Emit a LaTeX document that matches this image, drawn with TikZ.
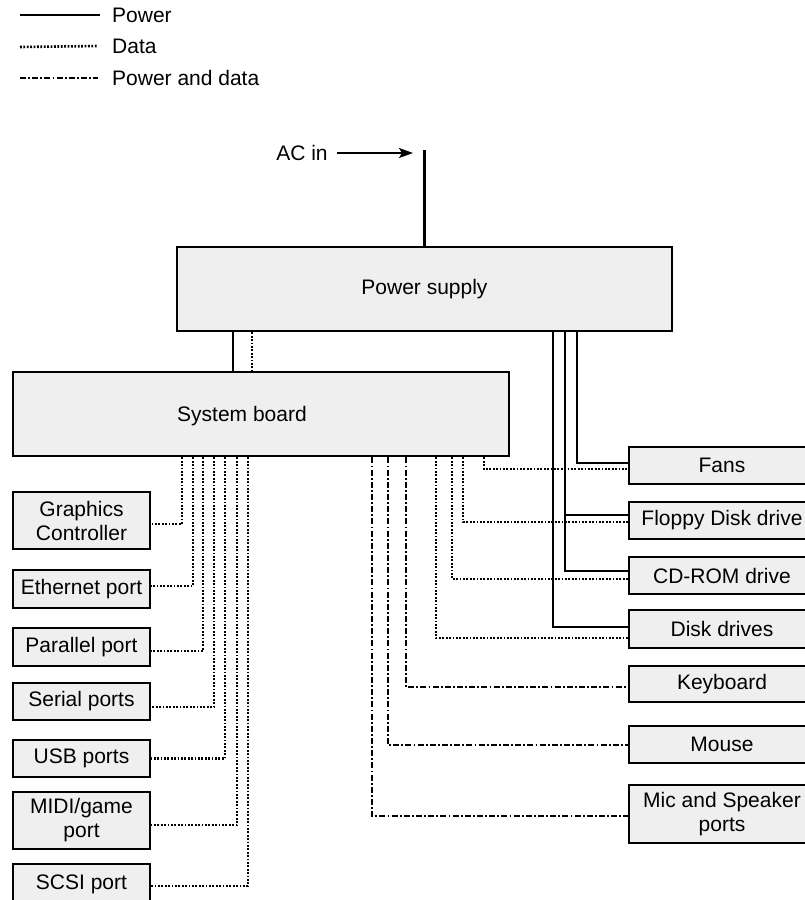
\documentclass[tikz,border=0pt]{standalone}
\usepackage{fontspec}
\setmainfont{Liberation Sans}
\usetikzlibrary{calc,arrows.meta}
\definecolor{boxgray}{HTML}{EFEFEF}
\begin{document}
\begin{tikzpicture}[x=1pt,y=-1pt,
  box/.style={draw, line width=2.8pt, fill=boxgray, inner sep=0pt, align=center,
              font=\fontsize{21}{24}\selectfont},
  lbox/.style={box, minimum width=137pt},
  rbox/.style={box, minimum width=186pt},
  lbl/.style={inner sep=0pt, font=\fontsize{21}{24}\selectfont},
  power/.style={line width=2.6pt},
  data/.style={line width=2.6pt, dash pattern=on 1.8pt off 1.6pt},
  pdata/.style={line width=2.6pt, dash pattern=on 6pt off 2.2pt on 1.8pt off 2.2pt},
]
\useasboundingbox (0,0) rectangle (805,900);
\clip (0,0) rectangle (805,900);

% legend
\node[lbl, anchor=west] (lgP) at (112,15) {Power};
\node[lbl, anchor=west] (lgD) at (112,46) {Data};
\node[lbl, anchor=west] (lgPD) at (112,78) {Power and data};
\coordinate (lgPs) at (20,15);
\coordinate (lgDs) at (20,47);
\coordinate (lgPDs) at (20,78);
\draw[power] (lgPs) -- ($(lgP.west)+(-12,0)$);
\draw[data] (lgDs) -- ($(lgD.west)+(-14,0)$);
\draw[pdata] (lgPDs) -- ($(lgPD.west)+(-14,0)$);

% main boxes
\node[box, minimum width=495pt, minimum height=84pt] (ps) at (424.5,289) {Power supply};
\node[box, minimum width=496pt, minimum height=84pt] (sb) at (261,414) {};
\node[lbl] (sbl) at (242,416) {System board};

% AC in
\node[lbl] (acin) at (302,153) {AC in};
\coordinate (acarrow) at (413,153);
\coordinate (actop) at (424.5,150);
\draw[line width=1.5pt, -{Stealth[length=14pt,width=10pt,inset=3pt]}] ($(acin.east)+(9,0)$) -- (acarrow);
\draw[power] (actop) -- (ps.north);

% power supply to system board
\coordinate (xa) at (233,0);
\coordinate (xb) at (252,0);
\draw[power] (ps.south -| xa) -- (sb.north -| xa);
\draw[data] (ps.south -| xb) -- (sb.north -| xb);

% left boxes
\node[lbox, minimum height=57pt] (gc)   at (81.5,520.5) {Graphics\\Controller};
\node[lbox, minimum height=38pt] (eth)  at (81.5,589)   {Ethernet port};
\node[lbox, minimum height=38pt] (par)  at (81.5,647)   {Parallel port};
\node[lbox, minimum height=37pt] (ser)  at (81.5,701.5) {Serial ports};
\node[lbox, minimum height=37pt] (usb)  at (81.5,758.5) {USB ports};
\node[lbox, minimum height=57pt] (midi) at (81.5,820.5) {MIDI/game\\port};
\node[lbox, minimum height=40pt] (scsi) at (81.5,884)   {SCSI port};

% right boxes
\node[rbox, minimum height=37pt] (fans) at (722,465.5) {Fans};
\node[rbox, minimum height=37pt] (fl)   at (722,520.5) {Floppy Disk drive};
\node[rbox, minimum height=37pt] (cd)   at (722,575.5) {CD-ROM drive};
\node[rbox, minimum height=38pt] (dk)   at (722,629)   {Disk drives};
\node[rbox, minimum height=36pt] (kb)   at (722,684)   {Keyboard};
\node[rbox, minimum height=37pt] (ms)   at (722,744.5) {Mouse};
\node[rbox, minimum height=58pt] (mic)  at (722,814)   {Mic and Speaker\\ports};

% column coordinates
\coordinate (xG) at (182,0);
\coordinate (xE) at (193,0);
\coordinate (xP) at (203,0);
\coordinate (xS) at (214,0);
\coordinate (xU) at (225,0);
\coordinate (xMi) at (237,0);
\coordinate (xSc) at (248,0);
\coordinate (xpF) at (577,0);
\coordinate (xpC) at (565,0);
\coordinate (xpD) at (553,0);
\coordinate (xdF) at (484,0);
\coordinate (xdFl) at (463,0);
\coordinate (xdC) at (452,0);
\coordinate (xdD) at (436,0);
\coordinate (xdK) at (406,0);
\coordinate (xdM) at (388,0);
\coordinate (xdMic) at (372,0);

% left connection ends
\coordinate (gcE) at ($(gc.east)+(0,3.5)$);
\coordinate (ethE) at ($(eth.east)+(0,-3)$);
\coordinate (parE) at ($(par.east)+(0,4)$);
\coordinate (serE) at ($(ser.east)+(0,5.5)$);
\coordinate (usbE) at ($(usb.east)+(0,0)$);
\coordinate (midiE) at ($(midi.east)+(0,4.5)$);
\coordinate (scsiE) at ($(scsi.east)+(0,2)$);

\draw[data] (sb.south -| xG) |- (gcE);
\draw[data] (sb.south -| xE) |- (ethE);
\draw[data] (sb.south -| xP) |- (parE);
\draw[data] (sb.south -| xS) |- (serE);
\draw[data] (sb.south -| xU) |- (usbE);
\draw[data] (sb.south -| xMi) |- (midiE);
\draw[data] (sb.south -| xSc) |- (scsiE);

% right connection ends
\coordinate (fansP) at ($(fans.west)+(0,-2.5)$);
\coordinate (fansD) at ($(fans.west)+(0,3.5)$);
\coordinate (flP) at ($(fl.west)+(0,-5.5)$);
\coordinate (flD) at ($(fl.west)+(0,1.5)$);
\coordinate (cdP) at ($(cd.west)+(0,-4.5)$);
\coordinate (cdD) at ($(cd.west)+(0,3.5)$);
\coordinate (dkP) at ($(dk.west)+(0,-2)$);
\coordinate (dkD) at ($(dk.west)+(0,9)$);
\coordinate (kbD) at ($(kb.west)+(0,3)$);
\coordinate (msD) at ($(ms.west)+(0,0.5)$);
\coordinate (micD) at ($(mic.west)+(0,2)$);

% power lines
\draw[power] (ps.south -| xpF) |- (fansP);
\draw[power] (ps.south -| xpC) |- (cdP);
\draw[power] (xpC |- flP) -- (flP);
\draw[power] (ps.south -| xpD) |- (dkP);

% data lines
\draw[data] (sb.south -| xdF) |- (fansD);
\draw[data] (sb.south -| xdFl) |- (flD);
\draw[data] (sb.south -| xdC) |- (cdD);
\draw[data] (sb.south -| xdD) |- (dkD);
\draw[pdata] (sb.south -| xdK) |- (kbD);
\draw[pdata] (sb.south -| xdM) |- (msD);
\draw[pdata] (sb.south -| xdMic) |- (micD);
\end{tikzpicture}
\end{document}
